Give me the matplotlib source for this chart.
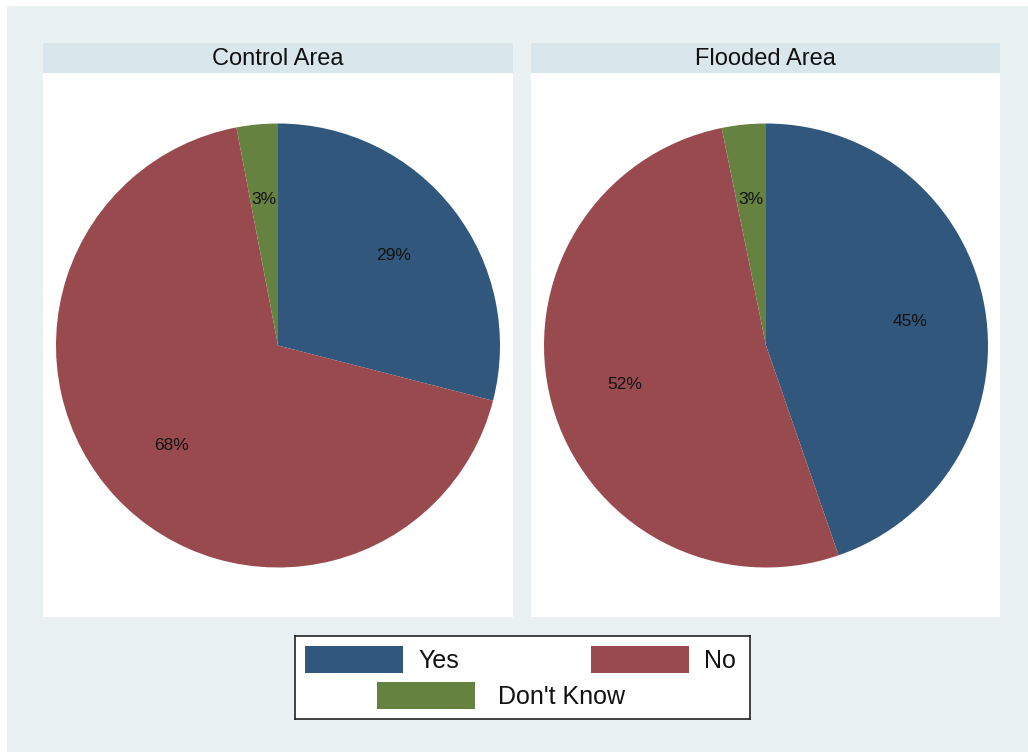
import matplotlib.pyplot as plt
from matplotlib.patches import Rectangle

plt.rcParams['font.family'] = ['Liberation Sans', 'DejaVu Sans']

categories = ['Yes', 'No', "Don't Know"]
areas = ['Control Area', 'Flooded Area']
control_pct = [29, 68, 3]
flooded_pct = [44.7, 52.1, 3.2]
colors = ['#31587C', '#994A4F', '#668240']

W, H = 1028, 752
fig = plt.figure(figsize=(W / 100, H / 100), dpi=100)
fig.patch.set_facecolor('white')


def px_axes(x0, y0, x1, y1, **kw):
    # pixel box (top-left origin) -> figure axes
    return fig.add_axes([x0 / W, 1 - y1 / H, (x1 - x0) / W, (y1 - y0) / H], **kw)


# outer background
bg = px_axes(7, 6, W, H)
bg.set_facecolor('#EAF1F3')
bg.set_xticks([])
bg.set_yticks([])
for s in bg.spines.values():
    s.set_visible(False)

panels = [(43, 513, 278), (531, 1000, 766)]
for (x0, x1, cx), title, vals in zip(panels, areas, [control_pct, flooded_pct]):
    body = px_axes(x0, 43, x1, 617)
    body.set_facecolor('white')
    body.set_xticks([])
    body.set_yticks([])
    for s in body.spines.values():
        s.set_visible(False)
    head = px_axes(x0, 43, x1, 73)
    head.set_facecolor('#D9E6EC')
    head.set_xticks([])
    head.set_yticks([])
    for s in head.spines.values():
        s.set_visible(False)
    head.text(0.5, 0.47, title, ha='center', va='center', fontsize=17,
              color='#111111', transform=head.transAxes)

    r = 222
    cy = 345.5
    ax = px_axes(cx - r, cy - r, cx + r, cy + r)
    ax.pie(vals, colors=colors, startangle=90, counterclock=False,
           autopct='%1.0f%%', pctdistance=0.66, radius=1,
           wedgeprops=dict(linewidth=0),
           textprops=dict(fontsize=12.5, color='#111111'))
    ax.set_xlim(-1, 1)
    ax.set_ylim(-1, 1)
    ax.set_aspect('equal')
    ax.axis('off')

# legend
lg = px_axes(295, 636, 750, 719)
lg.set_xlim(295, 750)
lg.set_ylim(719, 636)
lg.set_facecolor('white')
lg.set_xticks([])
lg.set_yticks([])
for s in lg.spines.values():
    s.set_edgecolor('#222222')
    s.set_linewidth(1.2)
swatches = [(305, 646, 418), (591, 646, 704), (377, 682, 498)]
for (sx, sy, tx), lab, c in zip(swatches, categories, colors):
    lg.add_patch(Rectangle((sx, sy), 98, 27, facecolor=c, edgecolor='none'))
    lg.text(tx, sy + 15, lab, ha='left', va='center', fontsize=18,
            color='#111111')

fig.savefig('out.png', dpi=100, facecolor=fig.get_facecolor())
